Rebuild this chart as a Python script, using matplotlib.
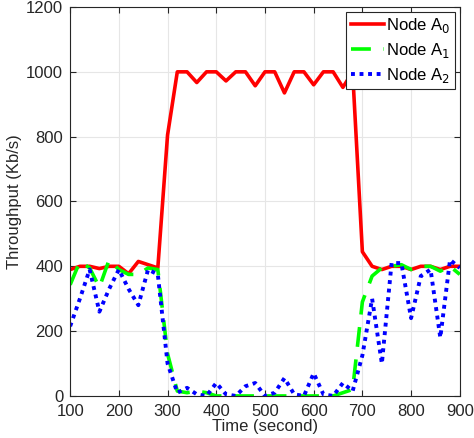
import matplotlib.pyplot as plt
import numpy as np

plt.rcParams['font.family'] = ['Liberation Sans', 'DejaVu Sans']

time = np.arange(100, 901, 20)

node_a0 = [390, 400, 400, 393, 400, 400, 377, 415, 405, 395,
           805, 1000, 1000, 967, 1000, 1000, 972, 1000, 1000, 957,
           1000, 1000, 935, 1000, 1000, 960, 1000, 1000, 952, 1000,
           445, 400, 390, 400, 400, 390, 400, 400, 390, 400, 400]

node_a1 = [343, 415, 395, 335, 420, 390, 375, 375, 395, 390,
           130, 15, 10, 15, 10, 0, 0, 0, 0, 0,
           0, 0, 0, 0, 0, 0, 0, 0, 10, 20,
           290, 370, 395, 400, 405, 390, 400, 400, 385, 400, 375]

node_a2 = [215, 300, 390, 260, 330, 390, 330, 280, 390, 375,
           100, 10, 25, 5, 0, 40, 5, 0, 30, 40,
           0, 10, 55, 5, 0, 70, 5, 0, 40, 15,
           125, 300, 100, 410, 410, 240, 370, 390, 180, 420, 395]

fig = plt.figure(figsize=(4.74, 4.38), dpi=100)
ax = fig.add_axes([0.148, 0.096, 0.822, 0.888])

ax.plot(time, node_a0, color='#ff0000', lw=2.6, label='Node A$_0$')
ax.plot(time, node_a1, color='#00ff00', lw=2.6, ls=(0, (5.5, 3.5)), label='Node A$_1$')
ax.plot(time, node_a2, color='#0000ff', lw=2.8, ls=(0, (1, 1.2)), label='Node A$_2$')

ax.set_xlim(100, 900)
ax.set_ylim(0, 1200)
ax.set_xticks(np.arange(100, 901, 100))
ax.set_yticks(np.arange(0, 1201, 200))
ax.grid(True, color='#e6e6e6', lw=0.8)
ax.set_axisbelow(True)
ax.tick_params(direction='in', labelsize=12, length=4, colors='#262626', top=True, right=True)
ax.tick_params(axis='x', pad=6)
ax.tick_params(axis='y', pad=5)
for s in ax.spines.values():
    s.set_color('#262626')
    s.set_linewidth(0.8)

ax.set_xlabel('Time (second)', fontsize=12, color='#262626', labelpad=0)
ax.set_ylabel('Throughput (Kb/s)', fontsize=12, color='#262626', labelpad=3)

leg = ax.legend(loc='upper right', fontsize=12, fancybox=False, edgecolor='#262626',
                borderaxespad=0.3, handlelength=2.0, handletextpad=0.15,
                labelspacing=0.35, borderpad=0.25, framealpha=1)
leg.get_frame().set_linewidth(0.8)

plt.savefig('out.png', dpi=100)
